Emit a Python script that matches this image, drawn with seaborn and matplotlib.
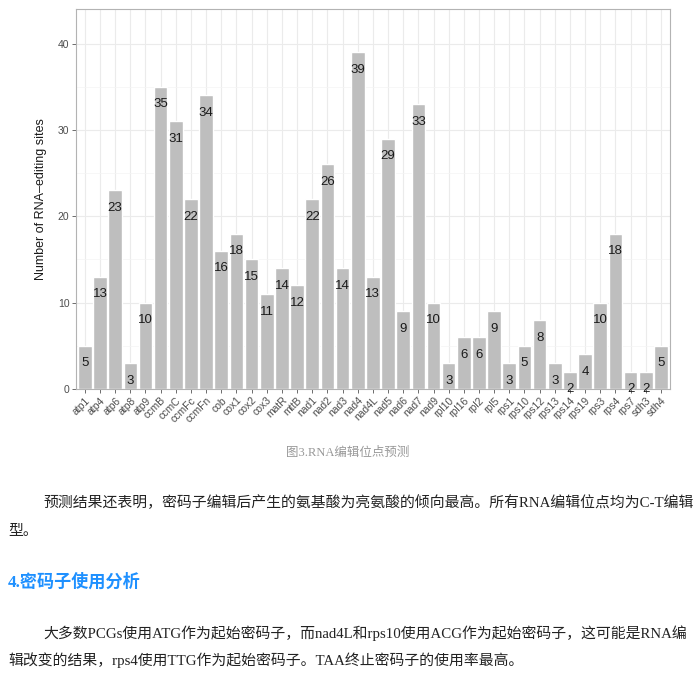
import numpy as np
import pandas as pd
import matplotlib
matplotlib.use("Agg")
import matplotlib.pyplot as plt
import seaborn as sns

# gene names and number of predicted RNA-editing sites
genes = ['atp1', 'atp4', 'atp6', 'atp8', 'atp9', 'ccmB', 'ccmC', 'ccmFc', 'ccmFn',
         'cob', 'cox1', 'cox2', 'cox3', 'matR', 'mttB', 'nad1', 'nad2', 'nad3',
         'nad4', 'nad4L', 'nad5', 'nad6', 'nad7', 'nad9', 'rpl10', 'rpl16', 'rpl2',
         'rpl5', 'rps1', 'rps10', 'rps12', 'rps13', 'rps14', 'rps19', 'rps3',
         'rps4', 'rps7', 'sdh3', 'sdh4']
sites = [5, 13, 23, 3, 10, 35, 31, 22, 34, 16, 18, 15, 11, 14, 12, 22, 26, 14,
         39, 13, 29, 9, 33, 10, 3, 6, 6, 9, 3, 5, 8, 3, 2, 4, 10, 18, 2, 2, 5]
y_ticks = [0, 10, 20, 30, 40]

caption = '图3.RNA编辑位点预测'
para1_line1 = '预测结果还表明，密码子编辑后产生的氨基酸为亮氨酸的倾向最高。所有RNA编辑位点均为C-T编辑'
para1_line2 = '型。'
heading = '4.密码子使用分析'
para2_line1 = '大多数PCGs使用ATG作为起始密码子，而nad4L和rps10使用ACG作为起始密码子，这可能是RNA编'
para2_line2 = '辑改变的结果，rps4使用TTG作为起始密码子。TAA终止密码子的使用率最高。'

df = pd.DataFrame({'gene': genes, 'sites': sites})

sns.set_theme(style='whitegrid')
plt.rcParams['font.family'] = ['Liberation Sans', 'DejaVu Sans']

fig = plt.figure(figsize=(6.95, 6.91), dpi=100)
ax = fig.add_axes([0.109, 0.437, 0.855, 0.55])

sns.barplot(data=df, x='gene', y='sites', color='#BEBEBE', saturation=1,
            width=0.9, ax=ax, zorder=2)
ax.bar_label(ax.containers[0], labels=[str(v) for v in sites], padding=-17,
             fontsize=9.5, color='#1A1A1A')

ax.set_xlim(-0.6, len(genes) - 0.4)
ax.set_ylim(0, 44)
ax.set_yticks(y_ticks)
ax.set_yticks([5, 15, 25, 35], minor=True)
ax.grid(True, which='major', color='#EBEBEB', linewidth=0.8, zorder=0)
ax.grid(True, which='minor', axis='y', color='#F4F4F4', linewidth=0.5, zorder=0)
ax.set_axisbelow(True)

for s in ax.spines.values():
    s.set_color('#B3B3B3')
    s.set_linewidth(0.8)

ax.tick_params(axis='both', which='major', length=3, width=0.6, color='#555555',
               labelsize=7.5, labelcolor='#4D4D4D', pad=1.5, bottom=True, left=True)
ax.tick_params(axis='both', which='minor', length=0)
plt.setp(ax.get_xticklabels(), rotation=45, ha='right', rotation_mode='anchor')
ax.set_xlabel('')
ax.set_ylabel('Number of RNA–editing sites', fontsize=9, color='#1A1A1A', labelpad=8)

# page text below the chart
cjk = ['Liberation Serif', 'Noto Sans CJK SC']
body_size = 10.7
fig.text(0.5, 1 - 453 / 691, caption, ha='center', va='center', fontsize=9,
         color='#999999', family=cjk)
fig.text(43 / 695, 1 - 503 / 691, para1_line1, ha='left', va='center',
         fontsize=body_size, color='#222222', family=cjk)
fig.text(8 / 695, 1 - 531 / 691, para1_line2, ha='left', va='center',
         fontsize=body_size, color='#222222', family=cjk)
fig.text(8 / 695, 1 - 582 / 691, heading, ha='left', va='center',
         fontsize=12.3, color='#1E90FF', fontweight='bold', family=cjk)
fig.text(43 / 695, 1 - 633 / 691, para2_line1, ha='left', va='center',
         fontsize=body_size, color='#222222', family=cjk)
fig.text(8 / 695, 1 - 660 / 691, para2_line2, ha='left', va='center',
         fontsize=body_size, color='#222222', family=cjk)

fig.savefig('out.png', dpi=100)
